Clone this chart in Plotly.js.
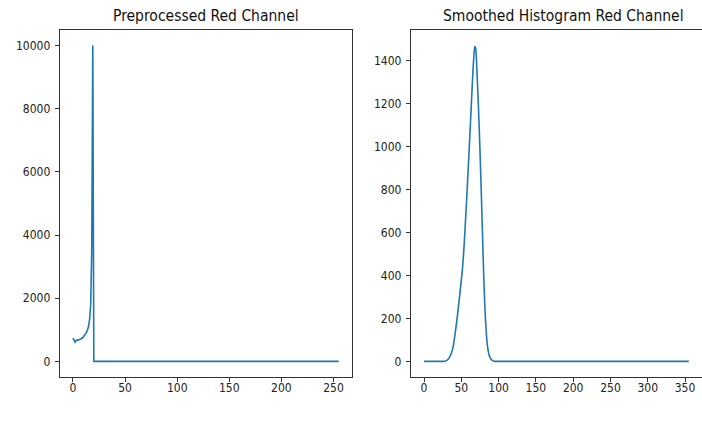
<!DOCTYPE html>
<html>
<head>
<meta charset="utf-8">
<script src="https://cdn.plot.ly/plotly-3.0.1.min.js"></script>
<style>
html,body{margin:0;padding:0;overflow:hidden;background:#fff;}
#chart{width:704px;height:421px;}
</style>
</head>
<body>
<div id="chart"></div>
<script>
// Left panel: preprocessed red channel (256 bins)
const preprocessedX = Array.from({length:256}, (_, i) => i);
const preprocessedY = [
740,650,610,660,680,670,690,690,710,740,780,820,860,920,1000,1120,1350,1800,3500,10000,
0,0,0,0,0,0,0,0,0,0,0,0,0,0,0,0,0,0,0,0,
0,0,0,0,0,0,0,0,0,0,0,0,0,0,0,0,0,0,0,0,
0,0,0,0,0,0,0,0,0,0,0,0,0,0,0,0,0,0,0,0,
0,0,0,0,0,0,0,0,0,0,0,0,0,0,0,0,0,0,0,0,
0,0,0,0,0,0,0,0,0,0,0,0,0,0,0,0,0,0,0,0,
0,0,0,0,0,0,0,0,0,0,0,0,0,0,0,0,0,0,0,0,
0,0,0,0,0,0,0,0,0,0,0,0,0,0,0,0,0,0,0,0,
0,0,0,0,0,0,0,0,0,0,0,0,0,0,0,0,0,0,0,0,
0,0,0,0,0,0,0,0,0,0,0,0,0,0,0,0,0,0,0,0,
0,0,0,0,0,0,0,0,0,0,0,0,0,0,0,0,0,0,0,0,
0,0,0,0,0,0,0,0,0,0,0,0,0,0,0,0,0,0,0,0,
0,0,0,0,0,0,0,0,0,0,0,0,0,0,0,0
];

// Right panel: smoothed histogram (356 samples)
const smoothedX = Array.from({length:356}, (_, i) => i);
const smoothedY = [
0,0,0,0,0,0,0,0,0,0,0,0,0,0,0,0,0,0,0,0,
0,0,0,0,0,0,0,0,1,2,4,6,9,13,18,25,33,43,54,66,
90,113,137,163,191,220,250,281,313,346,380,412,452,500,556,617,680,745,812,880,
950,1020,1092,1165,1238,1310,1375,1430,1465,1462,1425,1345,1265,1180,1085,985,875,760,640,520,
405,305,225,160,110,75,50,33,22,15,10,6,4,2,1,0,0,0,0,0,
0,0,0,0,0,0,0,0,0,0,0,0,0,0,0,0,0,0,0,0,
0,0,0,0,0,0,0,0,0,0,0,0,0,0,0,0,0,0,0,0,
0,0,0,0,0,0,0,0,0,0,0,0,0,0,0,0,0,0,0,0,
0,0,0,0,0,0,0,0,0,0,0,0,0,0,0,0,0,0,0,0,
0,0,0,0,0,0,0,0,0,0,0,0,0,0,0,0,0,0,0,0,
0,0,0,0,0,0,0,0,0,0,0,0,0,0,0,0,0,0,0,0,
0,0,0,0,0,0,0,0,0,0,0,0,0,0,0,0,0,0,0,0,
0,0,0,0,0,0,0,0,0,0,0,0,0,0,0,0,0,0,0,0,
0,0,0,0,0,0,0,0,0,0,0,0,0,0,0,0,0,0,0,0,
0,0,0,0,0,0,0,0,0,0,0,0,0,0,0,0,0,0,0,0,
0,0,0,0,0,0,0,0,0,0,0,0,0,0,0,0,0,0,0,0,
0,0,0,0,0,0,0,0,0,0,0,0,0,0,0,0,0,0,0,0,
0,0,0,0,0,0,0,0,0,0,0,0,0,0,0,0
];

const titles = ["Preprocessed Red Channel", "Smoothed Histogram Red Channel"];

const W = 704, H = 421;
const lineColor = "#1f77b4";
const fam = "'DejaVu Sans Condensed', 'DejaVu Sans', sans-serif";
const font = {family: fam, size: 12, color: "#222"};
const titleFont = {family: fam, size: 15.5, color: "#111"};

function axisBase(extra) {
  return Object.assign({
    showgrid: false, zeroline: false,
    showline: true, mirror: true, linecolor: "#333", linewidth: 1,
    ticks: "outside", ticklen: 4, tickwidth: 1, tickcolor: "#333",
    tickfont: font, automargin: false, tickformat: "d"
  }, extra);
}

const xL = [59.7, 352], xR = [410.8, 702];
const yTop = 29.8, yBot = 377.2;

const data = [
  {x: preprocessedX, y: preprocessedY, type: "scatter", mode: "lines",
   line: {color: lineColor, width: 1.6}, xaxis: "x", yaxis: "y", hoverinfo: "skip"},
  {x: smoothedX, y: smoothedY, type: "scatter", mode: "lines",
   line: {color: lineColor, width: 1.6, shape: "spline", smoothing: 0.6}, xaxis: "x2", yaxis: "y2", hoverinfo: "skip"}
];

const yDom = [(H - yBot) / H, (H - yTop) / H];

const layout = {
  width: W, height: H,
  margin: {l: 0, r: 0, t: 0, b: 0, pad: 0},
  paper_bgcolor: "#fff", plot_bgcolor: "#fff",
  showlegend: false,
  font: font,
  xaxis: axisBase({domain: [xL[0]/W, xL[1]/W], range: [-12.75, 267.75], dtick: 50, tick0: 0, anchor: "y", ticklabelstandoff: -5}),
  yaxis: axisBase({domain: yDom, range: [-500, 10500], dtick: 2000, tick0: 0, anchor: "x", ticklabelstandoff: 2}),
  xaxis2: axisBase({domain: [xR[0]/W, xR[1]/W], range: [-17.75, 372.75], dtick: 50, tick0: 0, anchor: "y2", ticklabelstandoff: -5}),
  yaxis2: axisBase({domain: yDom, range: [-73.5, 1543.5], dtick: 200, tick0: 0, anchor: "x2", ticklabelstandoff: 2}),
  annotations: [
    {text: titles[0], xref: "paper", yref: "paper", x: (xL[0]+xL[1])/2/W, y: (H - 16)/H,
     xanchor: "center", yanchor: "middle", showarrow: false, font: titleFont},
    {text: titles[1], xref: "paper", yref: "paper", x: 563/W, y: (H - 16)/H,
     xanchor: "center", yanchor: "middle", showarrow: false, font: titleFont}
  ]
};

Plotly.newPlot("chart", data, layout, {staticPlot: true, displayModeBar: false});
</script>
</body>
</html>
